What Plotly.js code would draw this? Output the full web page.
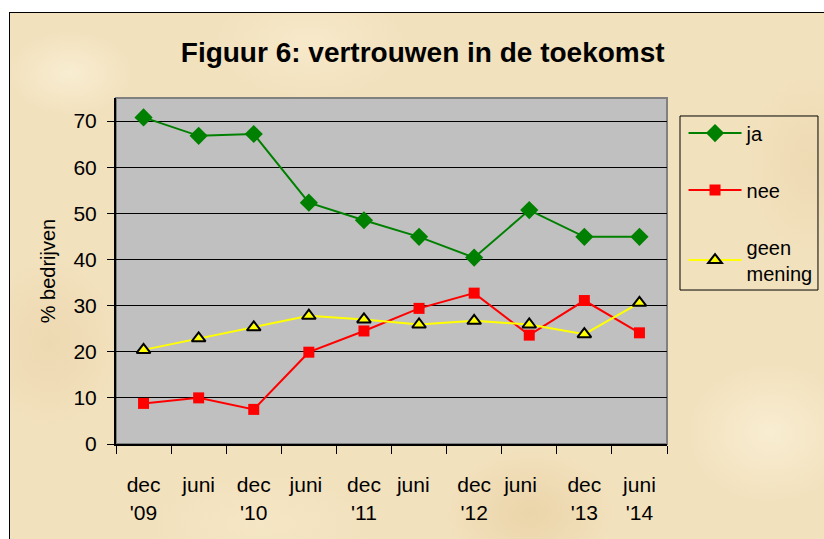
<!DOCTYPE html>
<html>
<head>
<meta charset="utf-8">
<script src="https://cdn.plot.ly/plotly-3.0.1.min.js"></script>
<style>
  body { margin: 0; background: #fff; width: 824px; height: 539px; overflow: hidden; position: relative; }
  #frame {
    position: absolute; left: 9px; top: 12px; width: 830px; height: 540px;
    border: 1.5px solid #000;
    background-color: #f2e1bd;
    background-image:
      radial-gradient(ellipse 90px 60px at 60px 60px, rgba(250,240,215,0.8), rgba(250,240,215,0) 70%),
      radial-gradient(ellipse 140px 80px at 300px 30px, rgba(248,236,208,0.7), rgba(248,236,208,0) 70%),
      radial-gradient(ellipse 120px 90px at 520px 500px, rgba(228,200,150,0.5), rgba(228,200,150,0) 70%),
      radial-gradient(ellipse 100px 120px at 40px 330px, rgba(232,208,165,0.5), rgba(232,208,165,0) 70%),
      radial-gradient(ellipse 120px 100px at 760px 420px, rgba(250,240,215,0.8), rgba(250,240,215,0) 70%),
      radial-gradient(ellipse 160px 70px at 250px 510px, rgba(246,232,200,0.7), rgba(246,232,200,0) 70%),
      radial-gradient(ellipse 90px 130px at 800px 150px, rgba(234,212,170,0.5), rgba(234,212,170,0) 70%);
  }
  #chart { position: absolute; left: 0; top: 0; width: 824px; height: 539px; }
</style>
</head>
<body>
<div id="frame"></div>
<div id="chart"></div>
<script>
// periodes
var periodes = ["dec<br>'09", "juni", "dec<br>'10", "juni ", "dec<br>'11", "juni  ", "dec<br>'12", "juni   ", "dec<br>'13", "juni<br>'14"];

var ja = [70.8, 66.8, 67.2, 52.3, 48.5, 44.9, 40.4, 50.7, 44.9, 44.9];
var nee = [8.8, 10.0, 7.5, 19.9, 24.5, 29.4, 32.7, 23.6, 31.1, 24.1];
var geenMening = [20.4, 22.9, 25.3, 27.8, 27.0, 25.9, 26.7, 25.9, 23.8, 30.6];

var yTicks = [0, 10, 20, 30, 40, 50, 60, 70];

var data = [
  {
    x: periodes, y: ja, name: "ja", legendgroup: "a",
    mode: "lines+markers", type: "scatter",
    line: {color: "#008000", width: 2},
    marker: {symbol: "diamond", size: 14, color: "#008000"}
  },
  {
    x: periodes, y: nee, name: "nee", legendgroup: "b",
    mode: "lines+markers", type: "scatter",
    line: {color: "#ff0000", width: 2},
    marker: {symbol: "square", size: 11, color: "#ff0000"}
  },
  {
    x: periodes, y: geenMening, name: "geen<br>mening", legendgroup: "c",
    mode: "lines+markers", type: "scatter",
    line: {color: "#ffff00", width: 2},
    marker: {symbol: "triangle-up", size: 12, color: "#ffff00", line: {color: "#000", width: 2}}
  }
];

var layout = {
  width: 824, height: 539,
  margin: {l: 116, r: 157, t: 98, b: 95, autoexpand: false},
  paper_bgcolor: "rgba(0,0,0,0)",
  plot_bgcolor: "#c0c0c0",
  font: {family: "Arial, Liberation Sans, sans-serif", color: "#000", size: 20},
  title: {
    text: "<b>Figuur 6: vertrouwen in de toekomst</b>",
    font: {size: 28},
    x: 0.513, xref: "container", y: 0.904, yanchor: "middle"
  },
  xaxis: {
    type: "category",
    range: [-0.5, 9.5],
    tickson: "boundaries",
    tickangle: 0,
    ticks: "outside", ticklen: 8, tickcolor: "#000", tickwidth: 1,
    showline: true, linecolor: "#000", linewidth: 2,
    showgrid: false,
    tickfont: {size: 21},
    ticklabelstandoff: 21,
    fixedrange: true
  },
  yaxis: {
    range: [0, 75],
    tickvals: yTicks,
    ticks: "outside", ticklen: 7, tickcolor: "#000",
    showline: true, linecolor: "#000", linewidth: 2,
    gridcolor: "#000", gridwidth: 1,
    zeroline: false,
    tickfont: {size: 21},
    ticklabelstandoff: 6,
    title: {text: "% bedrijven", font: {size: 20}, standoff: 12}
  },
  showlegend: true,
  legend: {
    x: 1.03, y: 0.955, xanchor: "left", yanchor: "top",
    bgcolor: "rgba(0,0,0,0)", borderwidth: 0,
    traceorder: "grouped", tracegroupgap: 28,
    font: {size: 20},
    itemwidth: 53
  },
  shapes: [
    {type: "rect", xref: "paper", yref: "paper", x0: 0, x1: 1, y0: 0, y1: 1,
     line: {color: "#808080", width: 2}, layer: "below"},
    {type: "rect", xref: "paper", yref: "paper", x0: 1.0236, x1: 1.274, y0: 0.445, y1: 0.948,
     line: {color: "#000", width: 1}}
  ]
};

Plotly.newPlot("chart", data, layout, {displayModeBar: false, staticPlot: true});
</script>
</body>
</html>
